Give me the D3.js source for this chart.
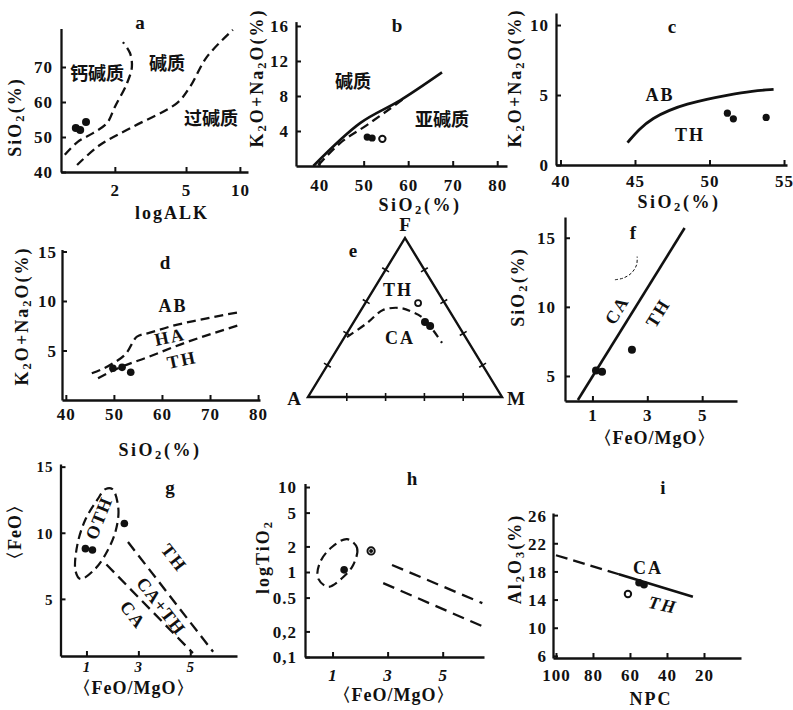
<!DOCTYPE html>
<html><head><meta charset="utf-8">
<script src="https://cdn.jsdelivr.net/npm/d3@7"></script>
<style>
body{margin:0;background:#fff;}
svg text{font-family:"Liberation Serif","DejaVu Serif",serif;font-weight:bold;fill:#111;}
svg text.cn{font-family:"Noto Sans CJK SC",sans-serif;font-weight:bold;}
</style></head><body>
<svg id="c" width="793" height="710"></svg>
<script>
// ---------- DATA ----------
// a: SiO2 vs ALK (log)
const aTicksX = [2, 5, 10];
const aTicksY = [40, 50, 60, 70];
const aCalcAlk = [[1.05,44.9],[1.24,48.6],[1.51,51.1],[1.81,54],[2.0,58.6],[2.34,65.4],[2.49,70],[2.43,74],[2.22,77.1]];
const aPeralk = [[1.23,42],[1.65,47.7],[2.52,52.9],[4.45,59.7],[5.26,64.3],[6.54,72.9],[9.14,80.6]];
const aPoints = [[1.21,52.6],[1.28,52.0],[1.38,54.3]];
// b: K2O+Na2O vs SiO2
const bTicksX = [40,50,60,70,80];
const bTicksY = [4,8,12,16];
const bSolid = [[38.7,0],[49.2,4.9],[58.2,7.5],[67.6,10.7]];
const bDashed = [[39.8,0.1],[44.7,2.6],[50.8,4.7],[59.3,7.8]];
const bPoints = [[50.8,3.3],[51.9,3.2]];
const bRings = [[54.2,3.1]];
// c: K2O+Na2O vs SiO2 (AB / TH)
const cTicksX = [40,45,50,55];
const cTicksY = [0,5,10];
const cCurve = [[44.5,1.6],[45.3,2.6],[46.2,3.35],[47.3,3.93],[48.5,4.36],[49.8,4.7],[51.2,5.0],[52.9,5.3],[54.3,5.4]];
const cPoints = [[51.2,3.7],[51.6,3.3],[53.8,3.4]];
// d: K2O+Na2O vs SiO2 (AB / HA / TH)
const dTicksX = [40,50,60,70,80];
const dTicksY = [5,10,15];
const dUpper = [[45.4,2.7],[49.8,3.7],[52.7,4.8],[54.8,6.4],[57.5,6.8],[62.3,7.5],[67.9,8.1],[76.3,8.9]];
const dLower = [[46.7,2.2],[51.3,3.3],[56.9,4.3],[63.8,5.6],[76.3,7.6]];
const dPoints = [[49.8,3.2],[51.7,3.3],[53.5,2.8]];
// e: AFM ternary, [F, M] fractions
const eTicks = [0.2,0.4,0.6,0.8];
const eCurve = [[0.377,0.012],[0.465,0.072],[0.547,0.113],[0.56,0.194],[0.535,0.269],[0.497,0.344],[0.34,0.521]];
const eRings = [[0.591,0.272]];
const ePoints = [[0.472,0.367],[0.447,0.406]];
// f: SiO2 vs FeO/MgO
const fTicksX = [1,3,5];
const fTicksY = [5,10,15];
const fLine = [[0.47,3.26],[4.36,15.7]];
const fArc = [[1.82,11.96],[2.12,12.08],[2.42,12.44],[2.61,13.04],[2.63,13.64]];
const fPoints = [[1.13,5.4],[1.35,5.3],[2.44,6.9]];
// g: FeO vs FeO/MgO
const gTicksX = [1,3,5];
const gTicksY = [5,10,15];
const gEllipse = [[2.0,13.3],[2.23,11.8],[2.12,10.1],[1.8,8.6],[1.35,7.3],[0.77,6.5],[0.58,7.1],[0.65,9.1],[0.96,11.0],[1.42,12.5],[1.73,13.3]];
const gTH = [[2.6,9.3],[5.88,1.0]];
const gCA = [[1.77,7.6],[5.1,0.9]];
const gPoints = [[0.96,8.8],[1.23,8.7],[2.46,10.7]];
// h: TiO2 (log) vs FeO/MgO
const hTicksX = [1,3,5];
const hTicksY = [0.1,0.2,0.5,1,2,5,10];
const hTickLabels = ["0,1","0,2","0.5","1","2","5","10"];
const hEllipse = [[1.53,2.44],[1.89,1.92],[1.75,1.21],[1.35,0.85],[0.84,0.67],[0.47,0.85],[0.55,1.31],[0.98,1.97]];
const hUpper = [[3.16,1.21],[6.44,0.43]];
const hLower = [[2.84,0.74],[6.44,0.23]];
const hPoints = [[1.42,1.06]];
const hRings = [[2.4,1.77]];
// i: Al2O3 vs NPC
const iTicksX = [100,80,60,40,20];
const iTicksY = [6,10,14,18,22,26];
const iDashed = [[100,20.3],[66,17.6]];
const iSolid = [[66,17.6],[26,14.4]];
const iRings = [[61.1,14.8]];
const iPoints = [[55.1,16.4],[52.4,16.1]];

// ---------- DRAWING ----------
const svg = d3.select('#c');
const INK = '#111';
const DASH = '9,5';
const TFS = 18;   // axis-title font size
const LFS = 18;   // in-plot label font size

function rich(sel, str, fs){
  const parts=[];
  for(let i=0;i<str.length;i++){
    if(str[i]==='_'){parts.push({t:str[i+1],sub:true});i++;}
    else if(parts.length && !parts[parts.length-1].sub) parts[parts.length-1].t+=str[i];
    else parts.push({t:str[i],sub:false});
  }
  let shifted=false;
  parts.forEach(p=>{
    const ts=sel.append('tspan').text(p.t);
    if(p.sub){ts.attr('font-size',fs*0.7); if(!shifted){ts.attr('dy',fs*0.28);shifted=true;}}
    else if(shifted){ts.attr('dy',-fs*0.28);shifted=false;}
  });
}
function label(x,y,str,o={}){
  const fs=o.fs||LFS;
  const t=svg.append('text').attr('transform',`translate(${x},${y}) rotate(${o.rot||0})`)
    .attr('text-anchor',o.anchor||'middle').attr('dominant-baseline','central').attr('font-size',fs);
  if(o.cn) t.attr('class','cn');
  if(o.ls) t.attr('letter-spacing',o.ls);
  if(o.italic) t.attr('font-style','italic');
  rich(t,str,fs);
}
function drawAxes(xs,ys,xTicks,yTicks,o={}){
  const gx=svg.append('g').attr('transform',`translate(0,${ys.range()[0]})`)
    .call(d3.axisBottom(xs).tickValues(xTicks).tickSizeInner(-5).tickSizeOuter(0).tickFormat(o.xfmt||(d=>d)));
  const gy=svg.append('g').attr('transform',`translate(${xs.range()[0]},0)`)
    .call(d3.axisLeft(ys).tickValues(yTicks).tickSizeInner(-5).tickSizeOuter(0).tickFormat(o.yfmt||(d=>d)));
  [gx,gy].forEach(g=>{
    g.attr('font-size',o.fs||17).attr('font-family',null);
    g.select('.domain').attr('stroke',INK).attr('stroke-width',2.3);
    g.selectAll('.tick line').attr('stroke',INK).attr('stroke-width',2);
    g.selectAll('.tick text').attr('fill',INK).attr('letter-spacing',1);
  });
  gx.selectAll('.tick text').attr('y',o.xOff||17).attr('dy','0.35em');
  if(o.xItalic) gx.selectAll('.tick text').attr('font-style','italic');
  gy.selectAll('.tick text').attr('x',-(o.yOff||7)).attr('dy','0.35em');
}
function path(data,xs,ys,o={}){
  const gen=d3.line().x(d=>xs(d[0])).y(d=>ys(d[1])).curve(o.curve||d3.curveLinear);
  svg.append('path').datum(data).attr('d',gen).attr('fill','none').attr('stroke',INK)
    .attr('stroke-width',o.w||2.3).attr('stroke-dasharray',o.dash?(o.dashArr||DASH):null)
    .attr('stroke-linecap','butt');
}
function dots(data,xs,ys,r){
  svg.append('g').selectAll('circle').data(data).join('circle')
    .attr('cx',d=>xs(d[0])).attr('cy',d=>ys(d[1])).attr('r',r||4).attr('fill',INK);
}
function rings(data,xs,ys,r){
  svg.append('g').selectAll('circle').data(data).join('circle')
    .attr('cx',d=>xs(d[0])).attr('cy',d=>ys(d[1])).attr('r',r||3.3).attr('fill','#fff')
    .attr('stroke',INK).attr('stroke-width',2);
}

// ---- a ----
{
  const xs=d3.scaleLog().domain([1,11.1]).range([61,248]);
  const ys=d3.scaleLinear().domain([40,81]).range([172,28.5]);
  drawAxes(xs,ys,aTicksX,aTicksY,{xOff:18,yOff:8});
  path(aCalcAlk,xs,ys,{dash:true,curve:d3.curveCatmullRom});
  path(aPeralk,xs,ys,{dash:true,curve:d3.curveCatmullRom});
  dots(aPoints,xs,ys,4);
  label(140,22,'a',{fs:19});
  label(97,72,'钙碱质',{cn:true,fs:18});
  label(167,62,'碱质',{cn:true,fs:18});
  label(211,117,'过碱质',{cn:true,fs:18});
  label(15,117,'SiO_2(%)',{rot:-90,fs:TFS,ls:2});
  label(172,213,'logALK',{fs:TFS,ls:2});
}
// ---- b ----
{
  const xs=d3.scaleLinear().domain([34.8,82.2]).range([296,507]);
  const ys=d3.scaleLinear().domain([0,16.5]).range([166,21.6]);
  drawAxes(xs,ys,bTicksX,bTicksY,{xOff:19,yOff:7});
  path(bSolid,xs,ys,{curve:d3.curveMonotoneX,w:2.6});
  path(bDashed,xs,ys,{dash:true,curve:d3.curveMonotoneX});
  dots(bPoints,xs,ys,3.6);
  rings(bRings,xs,ys,3.2);
  label(397,25,'b',{fs:19});
  label(353,80,'碱质',{cn:true,fs:18});
  label(442,118,'亚碱质',{cn:true,fs:18});
  label(257,78,'K_2O+Na_2O(%)',{rot:-90,fs:TFS,ls:2});
  label(420,205,'SiO_2(%)',{fs:TFS,ls:2.5});
}
// ---- c ----
{
  const xs=d3.scaleLinear().domain([39.7,55.2]).range([556,787]);
  const ys=d3.scaleLinear().domain([0,10.86]).range([165,13]);
  drawAxes(xs,ys,cTicksX,cTicksY,{xOff:16,yOff:7});
  path(cCurve,xs,ys,{curve:d3.curveBasis,w:2.8});
  dots(cPoints,xs,ys,3.6);
  label(672,26,'c',{fs:19});
  label(660,95,'AB',{fs:LFS,ls:2});
  label(690,135,'TH',{fs:LFS,ls:2});
  label(515,78,'K_2O+Na_2O(%)',{rot:-90,fs:TFS,ls:2});
  label(679,202,'SiO_2(%)',{fs:TFS,ls:2.5});
}
// ---- d ----
{
  const xs=d3.scaleLinear().domain([39.2,80.4]).range([62,260]);
  const ys=d3.scaleLinear().domain([0,15.2]).range([400,249.5]);
  drawAxes(xs,ys,dTicksX,dTicksY,{xOff:14,yOff:5});
  path(dUpper,xs,ys,{dash:true,curve:d3.curveMonotoneX});
  path(dLower,xs,ys,{dash:true,curve:d3.curveMonotoneX});
  dots(dPoints,xs,ys,3.8);
  label(165,262,'d',{fs:19});
  label(173,306,'AB',{fs:LFS,ls:2});
  label(170,337,'HA',{fs:LFS,rot:-12,ls:2});
  label(182,360,'TH',{fs:LFS,rot:-12,ls:2});
  label(22,316,'K_2O+Na_2O(%)',{rot:-90,fs:TFS,ls:2});
  label(160,450,'SiO_2(%)',{fs:TFS,ls:2.5});
}
// ---- e (ternary) ----
{
  const ex=d3.scaleLinear().domain([0,1]).range([308,502]);
  const ey=d3.scaleLinear().domain([0,1]).range([397,238]);
  const pos=(F,M)=>[ex(M+F/2),ey(F)];
  const A=pos(0,0),M=pos(0,1),F=pos(1,0);
  svg.append('path').attr('d',d3.line()([A,M,F,A])+'Z').attr('fill','none').attr('stroke',INK).attr('stroke-width',2.4).attr('stroke-linejoin','miter');
  [[A,M],[M,F],[F,A]].forEach(([p,q])=>{
    const dx=q[0]-p[0],dy=q[1]-p[1],L=Math.hypot(dx,dy),nx=-dy/L,ny=dx/L;
    eTicks.forEach(t=>{
      const cx=p[0]+dx*t,cy=p[1]+dy*t;
      svg.append('line').attr('x1',cx-nx*4).attr('y1',cy-ny*4).attr('x2',cx+nx*4).attr('y2',cy+ny*4)
        .attr('stroke',INK).attr('stroke-width',1.6);
    });
  });
  const gen=d3.line().x(d=>pos(d[0],d[1])[0]).y(d=>pos(d[0],d[1])[1]).curve(d3.curveCatmullRom);
  svg.append('path').datum(eCurve).attr('d',gen).attr('fill','none').attr('stroke',INK).attr('stroke-width',2.2).attr('stroke-dasharray','8,5');
  svg.append('g').selectAll('circle').data(ePoints).join('circle')
    .attr('cx',d=>pos(d[0],d[1])[0]).attr('cy',d=>pos(d[0],d[1])[1]).attr('r',4).attr('fill',INK);
  svg.append('g').selectAll('circle').data(eRings).join('circle')
    .attr('cx',d=>pos(d[0],d[1])[0]).attr('cy',d=>pos(d[0],d[1])[1]).attr('r',3).attr('fill','#fff').attr('stroke',INK).attr('stroke-width',1.8);
  label(405,224,'F',{fs:19});
  label(294,398,'A',{fs:19});
  label(516,398,'M',{fs:19});
  label(353,250,'e',{fs:19});
  label(398,290,'TH',{fs:LFS,ls:2});
  label(400,338,'CA',{fs:LFS,ls:2});
}
// ---- f ----
{
  const xs=d3.scaleLinear().domain([0,6.27]).range([565,737]);
  const ys=d3.scaleLinear().domain([3.19,16.5]).range([401,217]);
  drawAxes(xs,ys,fTicksX,fTicksY,{xOff:14,yOff:9});
  path(fLine,xs,ys,{w:2.6});
  path(fArc,xs,ys,{dash:true,dashArr:'3,2',w:1,curve:d3.curveCatmullRom});
  dots(fPoints,xs,ys,4);
  label(633,232,'f',{fs:19});
  label(617,310,'CA',{fs:LFS,rot:-58,ls:2});
  label(658,313,'TH',{fs:LFS,rot:-58,ls:2});
  label(518,287,'SiO_2(%)',{rot:-90,fs:TFS,ls:2});
  label(655,438,'〈FeO/MgO〉',{fs:TFS,ls:1});
}
// ---- g ----
{
  const xs=d3.scaleLinear().domain([0,6.8]).range([60.5,237]);
  const ys=d3.scaleLinear().domain([0.68,15.2]).range([656,464]);
  drawAxes(xs,ys,gTicksX,gTicksY,{xOff:11,yOff:7,fs:15,xItalic:true});
  const gen=d3.line().x(d=>xs(d[0])).y(d=>ys(d[1])).curve(d3.curveCatmullRomClosed);
  svg.append('path').datum(gEllipse).attr('d',gen).attr('fill','none').attr('stroke',INK).attr('stroke-width',2.2).attr('stroke-dasharray','9,5');
  path(gTH,xs,ys,{dash:true,dashArr:'11,6'});
  path(gCA,xs,ys,{dash:true,dashArr:'11,6'});
  dots(gPoints,xs,ys,3.8);
  label(170,487,'g',{fs:19});
  label(99,518,'OTH',{fs:LFS,rot:-68,ls:1.5});
  label(174,558,'TH',{fs:LFS,rot:52,ls:2});
  label(161,606,'CA+TH',{fs:LFS,rot:52,ls:1});
  label(133,615,'CA',{fs:LFS,rot:52,ls:2});
  label(15,532,'〈FeO〉',{rot:-90,fs:TFS,ls:1});
  label(134,688,'〈FeO/MgO〉',{fs:TFS,ls:1});
}
// ---- h ----
{
  const xs=d3.scaleLinear().domain([0,6.5]).range([305,484]);
  const ys=d3.scaleLog().domain([0.1,11]).range([657,483.5]);
  drawAxes(xs,ys,hTicksX,hTicksY,{xOff:18,yOff:8,xItalic:true,yfmt:(d,i)=>hTickLabels[i]});
  const gen=d3.line().x(d=>xs(d[0])).y(d=>ys(d[1])).curve(d3.curveCatmullRomClosed);
  svg.append('path').datum(hEllipse).attr('d',gen).attr('fill','none').attr('stroke',INK).attr('stroke-width',2.2).attr('stroke-dasharray','9,5');
  path(hUpper,xs,ys,{dash:true,dashArr:'12,7'});
  path(hLower,xs,ys,{dash:true,dashArr:'12,7'});
  dots(hPoints,xs,ys,3.8);
  rings(hRings,xs,ys,3.6);
  dots(hRings,xs,ys,2);
  label(412,478,'h',{fs:19});
  label(263,557,'logTiO_2',{rot:-90,fs:TFS,ls:2});
  label(394,695,'〈FeO/MgO〉',{fs:TFS,ls:1});
}
// ---- i ----
{
  const xs=d3.scaleLinear().domain([101.6,0]).range([553,741]);
  const ys=d3.scaleLinear().domain([5.7,26.3]).range([658,513]);
  drawAxes(xs,ys,iTicksX,iTicksY,{xOff:17,yOff:6});
  path(iDashed,xs,ys,{dash:true,dashArr:'12,6'});
  path(iSolid,xs,ys,{w:2.6});
  rings(iRings,xs,ys,3.2);
  dots(iPoints,xs,ys,3.8);
  label(663,487,'i',{fs:19});
  label(648,568,'CA',{fs:LFS,ls:2});
  label(663,605,'TH',{fs:LFS,rot:12,italic:true,ls:2});
  label(515,559,'Al_2O_3(%)',{rot:-90,fs:TFS,ls:2});
  label(651,699,'NPC',{fs:TFS,ls:2});
}
</script>
</body></html>
